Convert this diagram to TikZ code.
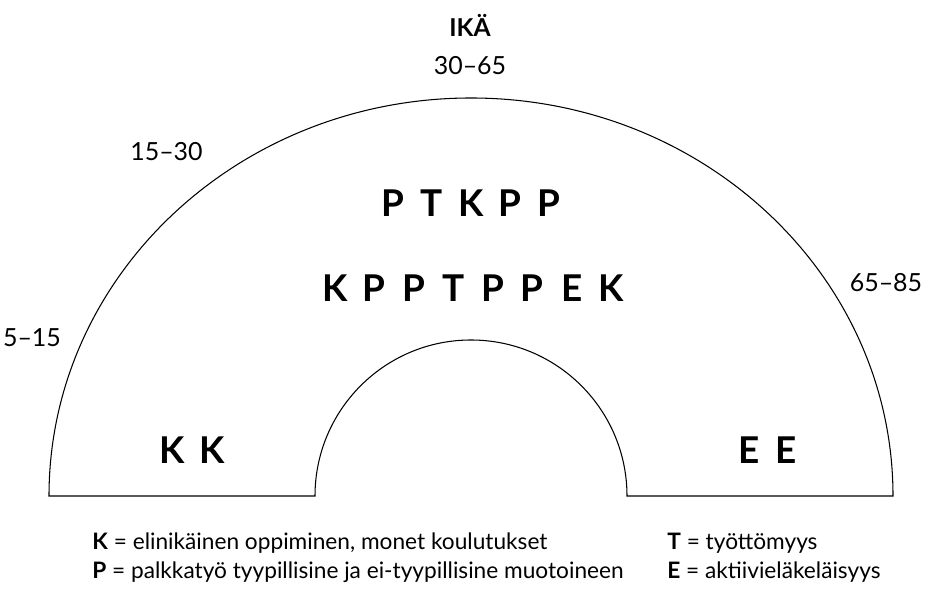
\documentclass[tikz,border=0pt]{standalone}
\usepackage{fontspec}
\setmainfont{Lato}
\usetikzlibrary{positioning}

\begin{document}
\begin{tikzpicture}[x=1cm,y=1cm,
  agelbl/.style={font=\fontsize{14.2}{17}\selectfont},
  letter/.style={font=\fontsize{21}{25}\selectfont\bfseries},
  legend/.style={font=\fontsize{12.9}{15}\selectfont,anchor=west,inner sep=0pt}]
 \useasboundingbox (0,0) rectangle (18.5,11.84);
 % half ring
 \draw[line width=.6pt] (0.98,1.92)
   arc[start angle=180,end angle=0,x radius=8.44,y radius=7.96]
   -- (12.54,1.92) arc[start angle=0,end angle=180,radius=3.12] -- cycle;
 % ages
 \node[font=\fontsize{14}{16}\selectfont\bfseries] (ika) at (9.4,11.34) {IKÄ};
 \node[agelbl] (a3) at (9.4,10.52) {30--65};
 \node[agelbl] (a2) at (3.33,8.80) {15--30};
 \node[agelbl] (a1) at (0.64,5.08) {5--15};
 \node[agelbl] (a4) at (17.72,6.18) {65--85};
 % letters
 \foreach \c [count=\i] in {P,T,K,P,P}
   \node[letter] (ra\i) at ({9.42+(\i-3)*0.78},7.78) {\c};
 \foreach \c [count=\i] in {K,P,P,T,P,P,E,K}
   \node[letter] (rb\i) at ({9.46+(\i-4.5)*0.79},6.08) {\c};
 \node[letter] (kk1) at (3.44,2.84) {K};
 \node[letter] (kk2) at (4.24,2.84) {K};
 \node[letter] (ee1) at (14.98,2.84) {E};
 \node[letter] (ee2) at (15.72,2.84) {E};
 % legend
 \node[legend] (lk) at (1.84,0.98) {\textbf{K} = elinikäinen oppiminen, monet koulutukset};
 \node[legend] (lp) at (1.84,0.40) {\textbf{P} = palkkatyö tyypillisine ja ei-tyypillisine muotoineen};
 \node[legend] (lt) at (13.34,0.98) {\textbf{T} = työttömyys};
 \node[legend] (le) at (13.34,0.40) {\textbf{E} = aktiivieläkeläisyys};
\end{tikzpicture}
\end{document}
